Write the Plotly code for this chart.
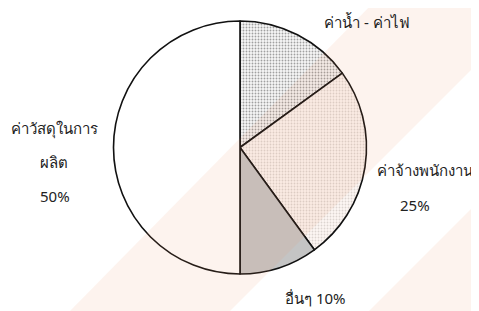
import plotly.graph_objects as go

labels = ["ค่าน้ำ - ค่าไฟ", "ค่าจ้างพนักงาน", "อื่นๆ", "ค่าวัสดุในการผลิต"]
values = [15, 25, 10, 50]
fill_colors = ["#f7f7f7", "#fdf7f4", "#c4c4c4", "#ffffff"]
pattern_shapes = [".", ".", "", ""]
pattern_fg = ["#a0a0a0", "#dcd4d0", "#c4c4c4", "#ffffff"]

# browser body margin of 8px shifts the figure; compensate
OFF = 8
W, H = 479 - OFF, 311 - OFF


def px(x):
    return (x - OFF) / W


def py(y):
    return 1 - (y - OFF) / H


fig = go.Figure()
fig.add_trace(go.Pie(
    labels=labels,
    values=values,
    sort=False,
    direction="clockwise",
    rotation=0,
    textinfo="none",
    hoverinfo="label+percent",
    showlegend=False,
    marker=dict(
        colors=fill_colors,
        line=dict(color="#111111", width=1.6),
        pattern=dict(shape=pattern_shapes, fgcolor=pattern_fg,
                     bgcolor=fill_colors, size=3, solidity=0.3),
    ),
    domain=dict(x=[px(113), px(367)], y=[py(274), py(21)]),
))

# faint watermark bands
bands = [
    [(70, 311), (230, 311), (479, 62), (479, -5), (381, -5), (70, 311)],
    [(369, 311), (479, 311), (479, 201), (369, 311)],
]
for b in bands:
    path = "M " + " L ".join(f"{px(x):.4f},{py(y):.4f}" for x, y in b) + " Z"
    fig.add_shape(type="path", path=path, xref="paper", yref="paper",
                  fillcolor="rgba(240,140,90,0.10)", line=dict(width=0),
                  layer="above")

font = dict(family="Tahoma, Noto Sans, sans-serif", size=15, color="#222222")
annots = [
    ("ค่าน้ำ - ค่าไฟ", 367, 22),
    ("ค่าจ้างพนักงาน", 425, 170),
    ("25%", 415, 205),
    ("อื่นๆ 10%", 315, 298),
    ("ค่าวัสดุในการ", 54, 128),
    ("ผลิต", 54, 162),
    ("50%", 55, 196),
]
for t, x, y in annots:
    fig.add_annotation(text=t, x=px(x), y=py(y), xref="paper", yref="paper",
                       showarrow=False, font=font, xanchor="center", yanchor="middle")

fig.update_layout(width=W, height=H, margin=dict(l=0, r=0, t=0, b=0),
                  paper_bgcolor="white", plot_bgcolor="white")
fig.write_html("out.html")
